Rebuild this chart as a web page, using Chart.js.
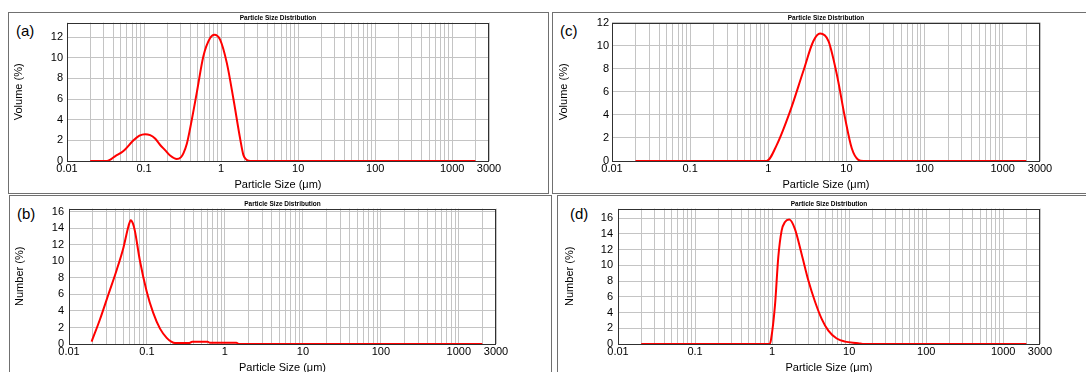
<!DOCTYPE html>
<html>
<head>
<meta charset="utf-8">
<script src="https://cdn.jsdelivr.net/npm/chart.js@4.4.1/dist/chart.umd.min.js"></script>
<style>
  body { margin: 0; width: 1086px; height: 372px; overflow: hidden; background: #fff; position: relative;
         font-family: "Liberation Sans", Arial, sans-serif; }
  .panel { position: absolute; border: 1px solid #707070; box-sizing: border-box; }
  .tag { position: absolute; font-size: 15px; line-height: 15px; color: #000; }
  canvas { position: absolute; }
</style>
</head>
<body>
<div class="panel" style="left:8px;top:12px;width:541px;height:182px"></div>
<div class="panel" style="left:552px;top:12px;width:540px;height:182px"></div>
<div class="panel" style="left:9px;top:195px;width:543px;height:200px"></div>
<div class="panel" style="left:557px;top:195px;width:540px;height:200px"></div>

<div class="tag" style="left:16px;top:23px">(a)</div>
<div class="tag" style="left:560px;top:23px">(c)</div>
<div class="tag" style="left:17px;top:206px">(b)</div>
<div class="tag" style="left:570px;top:206px">(d)</div>

<canvas id="chart-a"></canvas>
<canvas id="chart-b"></canvas>
<canvas id="chart-c"></canvas>
<canvas id="chart-d"></canvas>

<script>
// x axis: gridlines at 1..9 x each decade, labels at decades and the 3000 end
const gridDecades = [0.01, 0.1, 1, 10, 100, 1000];
const gridSteps = [1, 2, 3, 4, 5, 6, 7, 8, 9];
const xMin = 0.01;
const xMax = 3000;
const xLabelValues = [0.01, 0.1, 1, 10, 100, 1000, 3000];
const xLabelText = ['0.01', '0.1', '1', '10', '100', '1000', '3000'];

// (a) volume distribution
const sizeA = [0.02, 0.033, 0.036, 0.042, 0.054, 0.073, 0.087, 0.103, 0.12, 0.139, 0.16, 0.1875,
  0.22, 0.266, 0.3, 0.324, 0.36, 0.395, 0.483, 0.589, 0.72, 0.818, 0.97, 1.186, 1.446, 1.766,
  1.95, 2.16, 2.4, 2000];
const volumeA = [0, 0, 0.1, 0.45, 0.96, 2.0, 2.45, 2.6, 2.5, 2.17, 1.6, 1.05,
  0.5, 0.19, 0.35, 0.74, 1.7, 3.1, 6.6, 10.15, 11.9, 12.23, 11.75, 9.5, 6.0, 2.17,
  0.57, 0.1, 0, 0];

// (b) number distribution
const sizeB = [0.0195, 0.025, 0.032, 0.041, 0.05, 0.058, 0.062, 0.066, 0.07, 0.081, 0.099, 0.12,
  0.147, 0.179, 0.205, 0.23, 0.35, 0.38, 0.6, 0.64, 1.4, 1.5, 2000];
const numberB = [0.3, 3.0, 6.0, 9.0, 11.7, 14.3, 15.0, 14.6, 13.7, 10.15, 6.4, 3.8,
  1.86, 0.75, 0.3, 0.12, 0.12, 0.28, 0.28, 0.15, 0.15, 0, 0];

// (c) volume distribution
const sizeC = [0.02, 0.95, 1.285, 1.9, 2.81, 3.78, 4.6, 5.89, 7.54, 9.62, 11.7, 14.2, 16.5, 2000];
const volumeC = [0, 0, 1.4, 4.3, 7.8, 10.4, 11.05, 10.4, 7.5, 3.7, 1.1, 0.1, 0, 0];

// (d) number distribution
const sizeD = [0.02, 0.93, 0.97, 1.09, 1.205, 1.33, 1.47, 1.67, 1.98, 2.42, 2.95, 3.6, 4.4, 5.37,
  6.9, 8.83, 13.1, 15, 2000];
const numberD = [0, 0, 0.6, 4.9, 11.1, 14.4, 15.5, 15.8, 14.6, 11.4, 8.1, 5.4, 3.2, 1.7,
  0.7, 0.3, 0.1, 0, 0];

Chart.defaults.font.family = "'Liberation Sans', Arial, sans-serif";
Chart.defaults.color = '#000';

// frame round the plot area, under the curve
const framePlugin = {
  id: 'frame',
  beforeDatasetsDraw(chart) {
    const a = chart.chartArea;
    const ctx = chart.ctx;
    ctx.save();
    ctx.strokeStyle = '#303030';
    ctx.lineWidth = 1;
    ctx.strokeRect(Math.round(a.left) + 0.5, Math.round(a.top) + 0.5,
      Math.round(a.right - a.left) - 1, Math.round(a.bottom - a.top));
    ctx.restore();
  }
};

function gridValues() {
  const vals = [];
  gridDecades.forEach(d => gridSteps.forEach(s => {
    const v = +(d * s).toPrecision(6);
    if (v <= xMax) vals.push(v);
  }));
  return vals;
}

function makeChart(id, sizes, values, yTitle, yMax, box) {
  const canvas = document.getElementById(id);
  const width = box.right - box.canvasLeft + 40;
  const height = 9 + (box.bottom - box.top) + 32;
  canvas.width = width;
  canvas.height = height;
  canvas.style.width = width + 'px';
  canvas.style.height = height + 'px';
  canvas.style.left = box.canvasLeft + 'px';
  canvas.style.top = (box.top - 9) + 'px';

  return new Chart(canvas.getContext('2d'), {
    type: 'line',
    data: {
      datasets: [{
        data: sizes.map((s, i) => ({ x: s, y: values[i] })),
        borderColor: '#ff0000',
        borderWidth: 2,
        pointRadius: 0,
        cubicInterpolationMode: 'monotone',
        fill: false,
      }],
    },
    options: {
      responsive: false,
      animation: false,
      layout: { padding: { left: 0, top: 0, right: 40, bottom: 0 } },
      plugins: {
        legend: { display: false },
        tooltip: { enabled: false },
        title: {
          display: true,
          text: 'Particle Size Distribution',
          fullSize: false,
          font: { size: 6.5, weight: 'bold', lineHeight: 1.2 },
          padding: { top: 0.5, bottom: 0.7 },
        },
      },
      scales: {
        x: {
          type: 'logarithmic',
          min: xMin,
          max: xMax,
          afterBuildTicks: scale => { scale.ticks = gridValues().map(v => ({ value: v })); },
          afterFit: scale => { scale.height = 32; },
          grid: { color: '#c4c4c4', lineWidth: 1, drawTicks: false },
          border: { display: false },
          ticks: {
            autoSkip: false, maxRotation: 0, minRotation: 0, padding: 1.5,
            font: { size: 11 },
            callback: value => {
              const i = xLabelValues.findIndex(v => Math.abs(v - value) / v < 1e-6);
              return i >= 0 ? xLabelText[i] : '';
            },
          },
          title: {
            display: true, text: 'Particle Size (μm)',
            font: { size: 11, lineHeight: 1.2 }, padding: { top: 0, bottom: 1.4 },
          },
        },
        y: {
          min: 0,
          max: yMax,
          afterFit: scale => { scale.width = box.left - box.canvasLeft; },
          grid: { color: '#c4c4c4', lineWidth: 1, drawTicks: false },
          border: { display: false },
          ticks: { stepSize: 2, includeBounds: false, padding: box.tickPad, font: { size: 11 } },
          title: {
            display: true, text: yTitle,
            font: { size: 11, lineHeight: 1.2 }, padding: { top: 4.9, bottom: 0 },
          },
        },
      },
    },
    plugins: [framePlugin],
  });
}

window.onload = function () {
  makeChart('chart-a', sizeA, volumeA, 'Volume (%)', 13.4,
    { canvasLeft: 7, left: 67, top: 21, right: 489, bottom: 161, tickPad: 4 });
  makeChart('chart-c', sizeC, volumeC, 'Volume (%)', 12,
    { canvasLeft: 552, left: 612, top: 22, right: 1040, bottom: 161, tickPad: 3 });
  makeChart('chart-b', sizeB, numberB, 'Number (%)', 16.4,
    { canvasLeft: 8, left: 69, top: 206, right: 496, bottom: 344, tickPad: 5 });
  makeChart('chart-d', sizeD, numberD, 'Number (%)', 17.2,
    { canvasLeft: 558, left: 618, top: 206, right: 1040, bottom: 344, tickPad: 5 });
};
</script>
</body>
</html>
